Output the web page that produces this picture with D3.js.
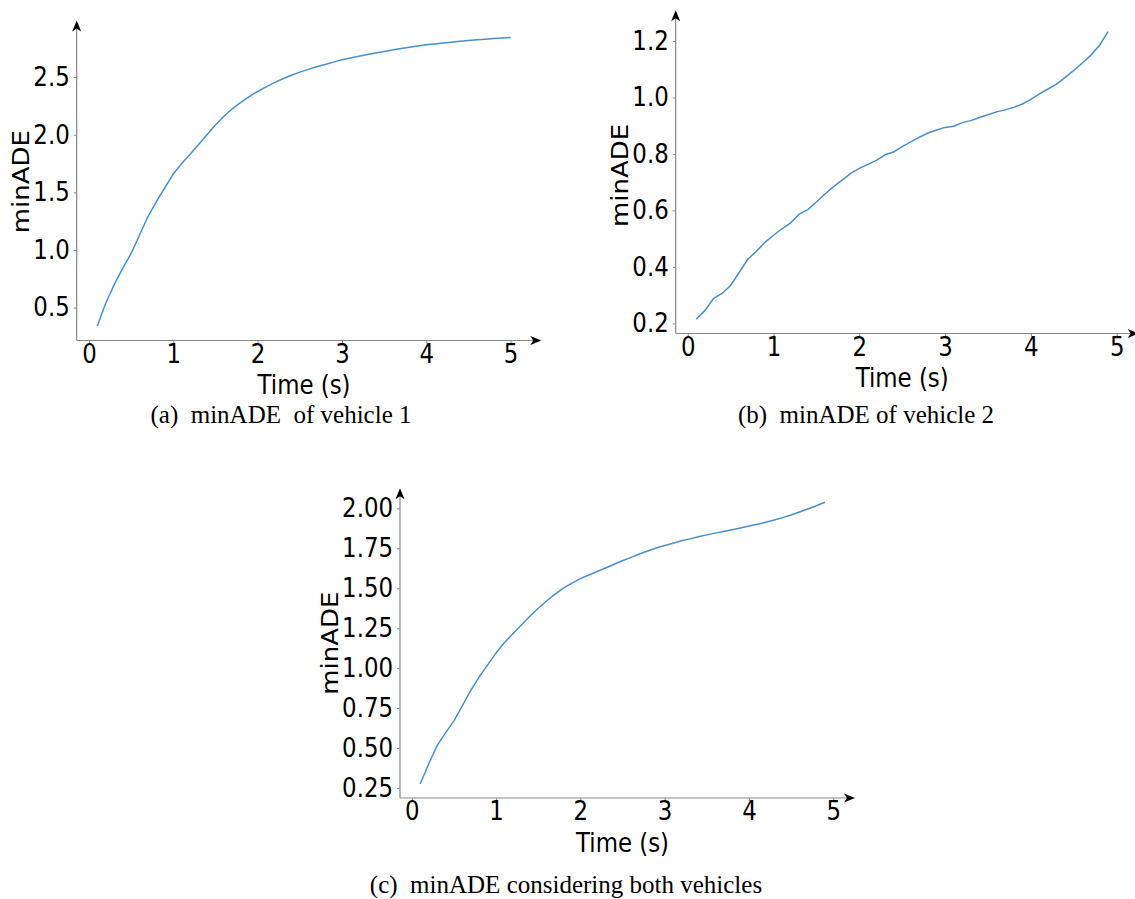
<!DOCTYPE html>
<html>
<head>
<meta charset="utf-8">
<script src="https://cdn.jsdelivr.net/npm/d3@7"></script>
<style>
  html, body { margin: 0; padding: 0; background: #fff; }
  svg { display: block; }
</style>
</head>
<body>
<svg id="chart" width="1135" height="899"></svg>
<script>
// ---------------- DATA ----------------
const timeA = [0.1,0.2,0.3,0.4,0.5,0.6,0.7,0.8,0.9,1.0,1.1,1.2,1.3,1.4,1.5,1.6,1.7,1.8,1.9,2.0,
               2.1,2.2,2.3,2.4,2.5,2.6,2.7,2.8,2.9,3.0,3.1,3.2,3.3,3.4,3.5,3.6,3.7,3.8,3.9,4.0,
               4.1,4.2,4.3,4.4,4.5,4.6,4.7,4.8,4.9,5.0];
const minADE_A = [0.34,0.54,0.70,0.84,0.97,1.13,1.29,1.42,1.54,1.66,1.75,1.83,1.915,2.0,2.085,2.16,2.225,2.28,2.33,2.375,
                  2.415,2.452,2.486,2.516,2.543,2.567,2.589,2.609,2.63,2.65,2.666,2.681,2.695,2.709,2.722,2.735,2.747,2.759,2.77,2.78,
                  2.788,2.796,2.803,2.81,2.817,2.823,2.829,2.834,2.839,2.844];

const timeB = [0.1,0.2,0.3,0.4,0.5,0.6,0.7,0.8,0.9,1.0,1.1,1.2,1.3,1.4,1.5,1.6,1.7,1.8,1.9,2.0,
               2.1,2.2,2.3,2.4,2.5,2.6,2.7,2.8,2.9,3.0,3.1,3.2,3.3,3.4,3.5,3.6,3.7,3.8,3.9,4.0,
               4.1,4.2,4.3,4.4,4.5,4.6,4.7,4.8,4.9];
const minADE_B = [0.215,0.245,0.288,0.306,0.334,0.38,0.427,0.455,0.487,0.512,0.535,0.556,0.587,0.603,0.630,0.658,0.684,0.707,0.731,0.749,
                  0.763,0.777,0.797,0.807,0.826,0.843,0.859,0.874,0.885,0.894,0.898,0.911,0.918,0.929,0.939,0.949,0.956,0.965,0.977,0.993,
                  1.013,1.030,1.047,1.071,1.096,1.122,1.150,1.185,1.233];

const timeC = [0.1,0.2,0.3,0.4,0.5,0.6,0.7,0.8,0.9,1.0,1.1,1.2,1.3,1.4,1.5,1.6,1.7,1.8,1.9,2.0,
               2.1,2.2,2.3,2.4,2.5,2.6,2.7,2.8,2.9,3.0,3.1,3.2,3.3,3.4,3.5,3.6,3.7,3.8,3.9,4.0,
               4.1,4.2,4.3,4.4,4.5,4.6,4.7,4.8,4.9];
const minADE_C = [0.275,0.40,0.515,0.595,0.67,0.765,0.86,0.945,1.02,1.095,1.16,1.215,1.27,1.325,1.375,1.42,1.463,1.50,1.532,1.56,
                  1.583,1.605,1.627,1.65,1.672,1.693,1.714,1.733,1.752,1.768,1.782,1.797,1.809,1.822,1.834,1.845,1.855,1.866,1.877,1.889,
                  1.90,1.913,1.927,1.942,1.958,1.977,1.996,2.016,2.038];

const xTicks = [0,1,2,3,4,5];
const yTicksA = [0.5,1.0,1.5,2.0,2.5];
const yTicksB = [0.2,0.4,0.6,0.8,1.0,1.2];
const yTicksC = [0.25,0.50,0.75,1.00,1.25,1.50,1.75,2.00];

const xLabel = "Time (s)";
const yLabel = "minADE";
const captionA = "(a)  minADE  of vehicle 1";
const captionB = "(b)  minADE of vehicle 2";
const captionC = "(c)  minADE considering both vehicles";

// ---------------- LAYOUT ----------------
const panels = [
  { time: timeA, values: minADE_A, yTicks: yTicksA, yFmt: ".1f", caption: captionA,
    box: {left: 76.7, right: 531.3, top: 23, bottom: 340.5}, arrowUp: 2.5, yLabOff: 48, capX: 281, capY: 423 },
  { time: timeB, values: minADE_B, yTicks: yTicksB, yFmt: ".1f", caption: captionB,
    box: {left: 675.7, right: 1128.7, top: 17.3, bottom: 333.5}, arrowUp: 7, yLabOff: 48, capX: 866, capY: 423 },
  { time: timeC, values: minADE_C, yTicks: yTicksC, yFmt: ".2f", caption: captionC,
    box: {left: 400, right: 845, top: 488.2, bottom: 798}, arrowUp: 0, yLabOff: 62, capX: 566, capY: 893 }
];

const svg = d3.select("#chart");
const axisColor = "#888";
const lineColor = "#4a8fca";
const tickFont = "DejaVu Sans, sans-serif";
const fontPx = "26px";
const sx = 0.88; // horizontal squeeze of the figure text

function padded(ext) {
  const r = ext[1] - ext[0];
  return [ext[0] - 0.05 * r, ext[1] + 0.05 * r];
}

panels.forEach(p => {
  const b = p.box;
  const x = d3.scaleLinear().domain(padded(d3.extent(p.time))).range([b.left, b.right]);
  const y = d3.scaleLinear().domain(padded(d3.extent(p.values))).range([b.bottom, b.top]);
  const g = svg.append("g");

  // axes lines
  g.append("line").attr("x1", b.left).attr("x2", b.right + 4).attr("y1", b.bottom).attr("y2", b.bottom)
    .attr("stroke", axisColor).attr("stroke-width", 1.2);
  g.append("line").attr("x1", b.left).attr("x2", b.left).attr("y1", b.bottom).attr("y2", b.top - p.arrowUp + 4)
    .attr("stroke", axisColor).attr("stroke-width", 1.2);

  // arrowheads
  const tipX = b.right + 10;
  g.append("path")
    .attr("d", `M${tipX},${b.bottom} L${tipX - 11},${b.bottom - 4.5} L${tipX - 8},${b.bottom} L${tipX - 11},${b.bottom + 4.5} Z`)
    .attr("fill", "#000");
  const tipY = b.top - p.arrowUp;
  g.append("path")
    .attr("d", `M${b.left},${tipY} L${b.left - 4.5},${tipY + 11} L${b.left},${tipY + 8} L${b.left + 4.5},${tipY + 11} Z`)
    .attr("fill", "#000");

  // ticks
  const xAxis = d3.axisBottom(x).tickValues(xTicks).tickFormat(d3.format("d")).tickSize(3).tickPadding(1);
  const gx = g.append("g").attr("transform", `translate(0,${b.bottom})`).call(xAxis);
  const yAxis = d3.axisLeft(y).tickValues(p.yTicks).tickFormat(d3.format(p.yFmt)).tickSize(3).tickPadding(4);
  const gy = g.append("g").attr("transform", `translate(${b.left},0)`).call(yAxis);
  [gx, gy].forEach(a => {
    a.select(".domain").remove();
    a.selectAll(".tick line").attr("stroke", axisColor);
    a.selectAll(".tick text").attr("fill", "#000").style("font-family", tickFont).style("font-size", fontPx)
      .each(function () {
        const t = d3.select(this);
        const x0 = +t.attr("x") || 0;
        t.attr("x", x0 / sx).attr("transform", `scale(${sx},1)`);
      });
  });

  // line
  const pts = p.time.map((t, i) => [t, p.values[i]]);
  g.append("path").datum(pts)
    .attr("d", d3.line().x(d => x(d[0])).y(d => y(d[1])))
    .attr("fill", "none").attr("stroke", lineColor).attr("stroke-width", 1.5);

  // axis labels
  g.append("text").attr("transform", `translate(${(b.left + b.right) / 2},${b.bottom + 53.5}) scale(${sx},1)`)
    .attr("text-anchor", "middle").style("font-family", tickFont).style("font-size", fontPx).text(xLabel);
  g.append("text").attr("transform", `translate(${b.left - p.yLabOff},${(b.top + b.bottom) / 2}) scale(${sx},1) rotate(-90)`)
    .attr("text-anchor", "middle").style("font-family", tickFont).style("font-size", fontPx).text(yLabel);

  // caption
  svg.append("text").attr("x", p.capX).attr("y", p.capY).attr("text-anchor", "middle")
    .style("font-family", "Liberation Serif, Times New Roman, serif").style("font-size", "25px")
    .style("white-space", "pre").attr("xml:space", "preserve").text(p.caption);
});
</script>
</body>
</html>
